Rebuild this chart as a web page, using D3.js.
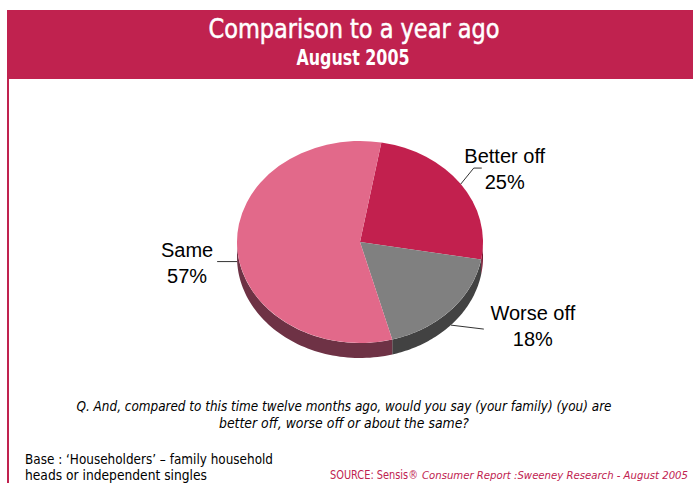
<!DOCTYPE html>
<html><head><meta charset="utf-8">
<script src="https://cdn.jsdelivr.net/npm/d3@7"></script>
<style>
html,body{margin:0;padding:0;background:#fff;}
svg{display:block;}
.cond{font-family:"Liberation Sans Narrow","DejaVu Sans Condensed","Noto Sans",sans-serif;}
</style></head>
<body>
<script>
const title = "Comparison to a year ago";
const subtitle = "August 2005";
const categories = ["Better off", "Worse off", "Same"];
const values = [25, 18, 57];
const topColors = ["#C2204E", "#808080", "#E2698A"];
const sideColors = ["#7A1530", "#424242", "#6E3245"];
const question = ["Q. And, compared to this time twelve months ago, would you say (your family) (you) are",
                  "better off, worse off or about the same?"];
const baseNote = ["Base : \u2018Householders\u2019 \u2013 family household", "heads or independent singles"];
const sourceParts = ["SOURCE: Sensis\u00AE", "Consumer Report :Sweeney Research - August 2005"];

const W = 693, H = 483;
const accent = "#C0224F";
const svg = d3.select("body").append("svg").attr("width", W).attr("height", H);

// header band and left border
svg.append("rect").attr("x", 7).attr("y", 10).attr("width", W - 7).attr("height", 69).attr("fill", accent);
svg.append("rect").attr("x", 7).attr("y", 79).attr("width", 2).attr("height", H - 79).attr("fill", accent);

svg.append("text").attr("class", "cond").attr("x", 354).attr("y", 38).attr("text-anchor", "middle")
  .attr("fill", "#fff").attr("font-size", 26).attr("textLength", 291).attr("lengthAdjust", "spacingAndGlyphs")
  .attr("stroke", "#fff").attr("stroke-width", 0.5)
  .text(title);
svg.append("text").attr("class", "cond").attr("x", 353).attr("y", 65).attr("text-anchor", "middle")
  .attr("fill", "#fff").attr("font-size", 21).attr("font-weight", 600).attr("textLength", 113)
  .attr("lengthAdjust", "spacingAndGlyphs").text(subtitle);

// pie geometry
const cx = 360, cy = 242, rx = 123, ry = 101, depth = 15;
const startDeg = 10;
const pie = d3.pie().sort(null).value(d => d)
  .startAngle(startDeg * Math.PI / 180).endAngle((startDeg + 360) * Math.PI / 180);
const arcsData = pie(values);
const pt = (a, dy = 0) => [cx + rx * Math.sin(a), cy - ry * Math.cos(a) + dy];

// sides (visible front half)
const sideG = svg.append("g");
arcsData.forEach((d, i) => {
  const segs = [];
  for (let k = -1; k <= 1; k++) {
    const lo = Math.PI / 2 + k * 2 * Math.PI, hi = 3 * Math.PI / 2 + k * 2 * Math.PI;
    const s = Math.max(d.startAngle, lo), e = Math.min(d.endAngle, hi);
    if (e > s) segs.push([s, e]);
  }
  segs.forEach(([s, e]) => {
    const n = 60, p = d3.path();
    for (let j = 0; j <= n; j++) {
      const a = s + (e - s) * j / n; const q = pt(a);
      j === 0 ? p.moveTo(q[0], q[1]) : p.lineTo(q[0], q[1]);
    }
    for (let j = n; j >= 0; j--) {
      const a = s + (e - s) * j / n; const q = pt(a, depth);
      p.lineTo(q[0], q[1]);
    }
    p.closePath();
    sideG.append("path").attr("d", p.toString()).attr("fill", sideColors[i]);
  });
});

// top face
const arc = d3.arc().innerRadius(0).outerRadius(rx);
svg.append("g").attr("transform", `translate(${cx},${cy}) scale(1,${ry / rx})`)
  .selectAll("path").data(arcsData).join("path")
  .attr("d", arc).attr("fill", (d, i) => topColors[i]);

// labels with leader lines
const labelCfg = [
  {elbow: [13, -16], tx: 44, ty: -21},
  {elbow: [33, 4], tx: 82, ty: -5},
  {elbow: [-20, 0], tx: -50, ty: -5}
];
const lg = svg.append("g");
arcsData.forEach((d, i) => {
  const mid = (d.startAngle + d.endAngle) / 2;
  const front = Math.cos(mid) < 0;
  const a = pt(mid, front ? depth : 0);
  const c = labelCfg[i];
  const e = [a[0] + c.elbow[0], a[1] + c.elbow[1]];
  const line = [a, e];
  if (i === 0) line.push([e[0] + 8, e[1]]);
  lg.append("path").attr("d", d3.line()(line)).attr("fill", "none").attr("stroke", "#333").attr("stroke-width", 1);
  const t = lg.append("text").attr("x", a[0] + c.tx).attr("y", a[1] + c.ty)
    .attr("text-anchor", "middle").attr("font-family", "Liberation Sans, Arial, sans-serif")
    .attr("font-size", 20).attr("fill", "#000");
  t.append("tspan").attr("x", a[0] + c.tx).text(categories[i]);
  t.append("tspan").attr("x", a[0] + c.tx).attr("dy", 26).text(values[i] + "%");
});

// question
question.forEach((q, i) => {
  svg.append("text").attr("class", "cond").attr("x", 344).attr("y", 411 + i * 17)
    .attr("text-anchor", "middle").attr("font-style", "italic").attr("font-size", 14).attr("fill", "#000")
    .attr("textLength", i === 0 ? 535 : 250).attr("lengthAdjust", "spacingAndGlyphs").text(q);
});

// base note
baseNote.forEach((b, i) => {
  svg.append("text").attr("class", "cond").attr("x", 25).attr("y", 464 + i * 16)
    .attr("font-size", 13.5).attr("fill", "#000")
    .attr("textLength", i === 0 ? 248 : 182).attr("lengthAdjust", "spacingAndGlyphs").text(b);
});

// source (two pieces: regular + italic)
svg.append("text").attr("class", "cond").attr("x", 330).attr("y", 479)
  .attr("font-size", 12).attr("fill", accent)
  .attr("textLength", 88).attr("lengthAdjust", "spacingAndGlyphs").text(sourceParts[0]);
svg.append("text").attr("class", "cond").attr("x", 422).attr("y", 479)
  .attr("font-size", 11).attr("font-style", "italic").attr("fill", accent)
  .attr("textLength", 266).attr("lengthAdjust", "spacingAndGlyphs").text(sourceParts[1]);
</script>
</body></html>
